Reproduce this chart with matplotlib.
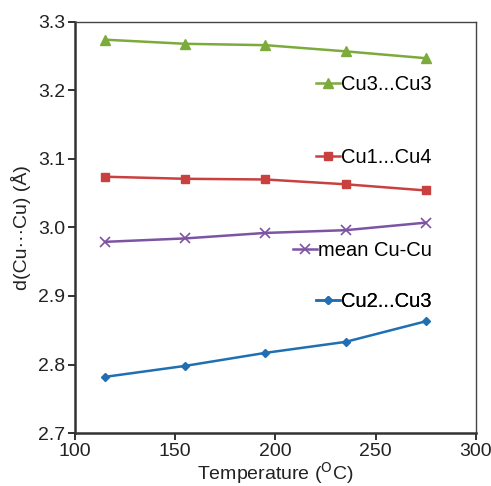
import matplotlib
matplotlib.use("Agg")
import matplotlib.pyplot as plt

plt.rcParams['font.family'] = ['Liberation Sans', 'DejaVu Sans']

temp = [115, 155, 195, 235, 275]
cu3_cu3 = [3.274, 3.268, 3.266, 3.257, 3.247]
cu1_cu4 = [3.074, 3.071, 3.070, 3.063, 3.054]
mean_cu = [2.979, 2.984, 2.992, 2.996, 3.007]
cu2_cu3 = [2.782, 2.798, 2.817, 2.833, 2.863]

labels = ["Cu3...Cu3", "Cu1...Cu4", "mean Cu-Cu", "Cu2...Cu3"]
xticks = [100, 150, 200, 250, 300]
yticks = [2.7, 2.8, 2.9, 3.0, 3.1, 3.2, 3.3]

fig = plt.figure(figsize=(4.91, 4.86), dpi=100)
ax = fig.add_axes([0.153, 0.109, 0.816, 0.846])

l1, = ax.plot(temp, cu3_cu3, color='#7cab3c', lw=1.8, marker='^', ms=7)
l2, = ax.plot(temp, cu1_cu4, color='#c8413f', lw=1.8, marker='s', ms=6)
l3, = ax.plot(temp, mean_cu, color='#7d53a3', lw=1.8, marker='x', ms=7, mew=1.2)
l4, = ax.plot(temp, cu2_cu3, color='#1f6fb2', lw=1.8, marker='D', ms=4)

# one small legend per series, placed beside its line
pos = [0.847, 0.669, 0.445, 0.319]
for h, lab, y in zip([l1, l2, l3, l4], labels, pos):
    leg = ax.legend([h], [lab], loc='center right', bbox_to_anchor=(0.915, y),
                    frameon=False, borderpad=0, handlelength=1.2,
                    handletextpad=0.05, fontsize=14.5)
    ax.add_artist(leg)

ax.set_xlim(100, 300)
ax.set_ylim(2.7, 3.3)
ax.set_xticks(xticks)
ax.set_yticks(yticks)
ax.set_yticklabels([f"{v:.1f}" for v in yticks])
ax.tick_params(direction='out', length=5, width=1.3, labelsize=14, colors='#222', pad=2)

for s in ['left', 'bottom']:
    ax.spines[s].set_linewidth(1.8)
    ax.spines[s].set_color('#333333')
for s in ['top', 'right']:
    ax.spines[s].set_linewidth(1.0)
    ax.spines[s].set_color('#444444')

ax.set_xlabel('Temperature ($^{\\mathrm{O}}$C)', fontsize=14, color='#222', labelpad=0)
ax.set_ylabel('d(Cu\u00b7\u00b7\u00b7Cu) (\u00c5)', fontsize=14, color='#222', labelpad=5)

fig.savefig('out.png', dpi=100)
